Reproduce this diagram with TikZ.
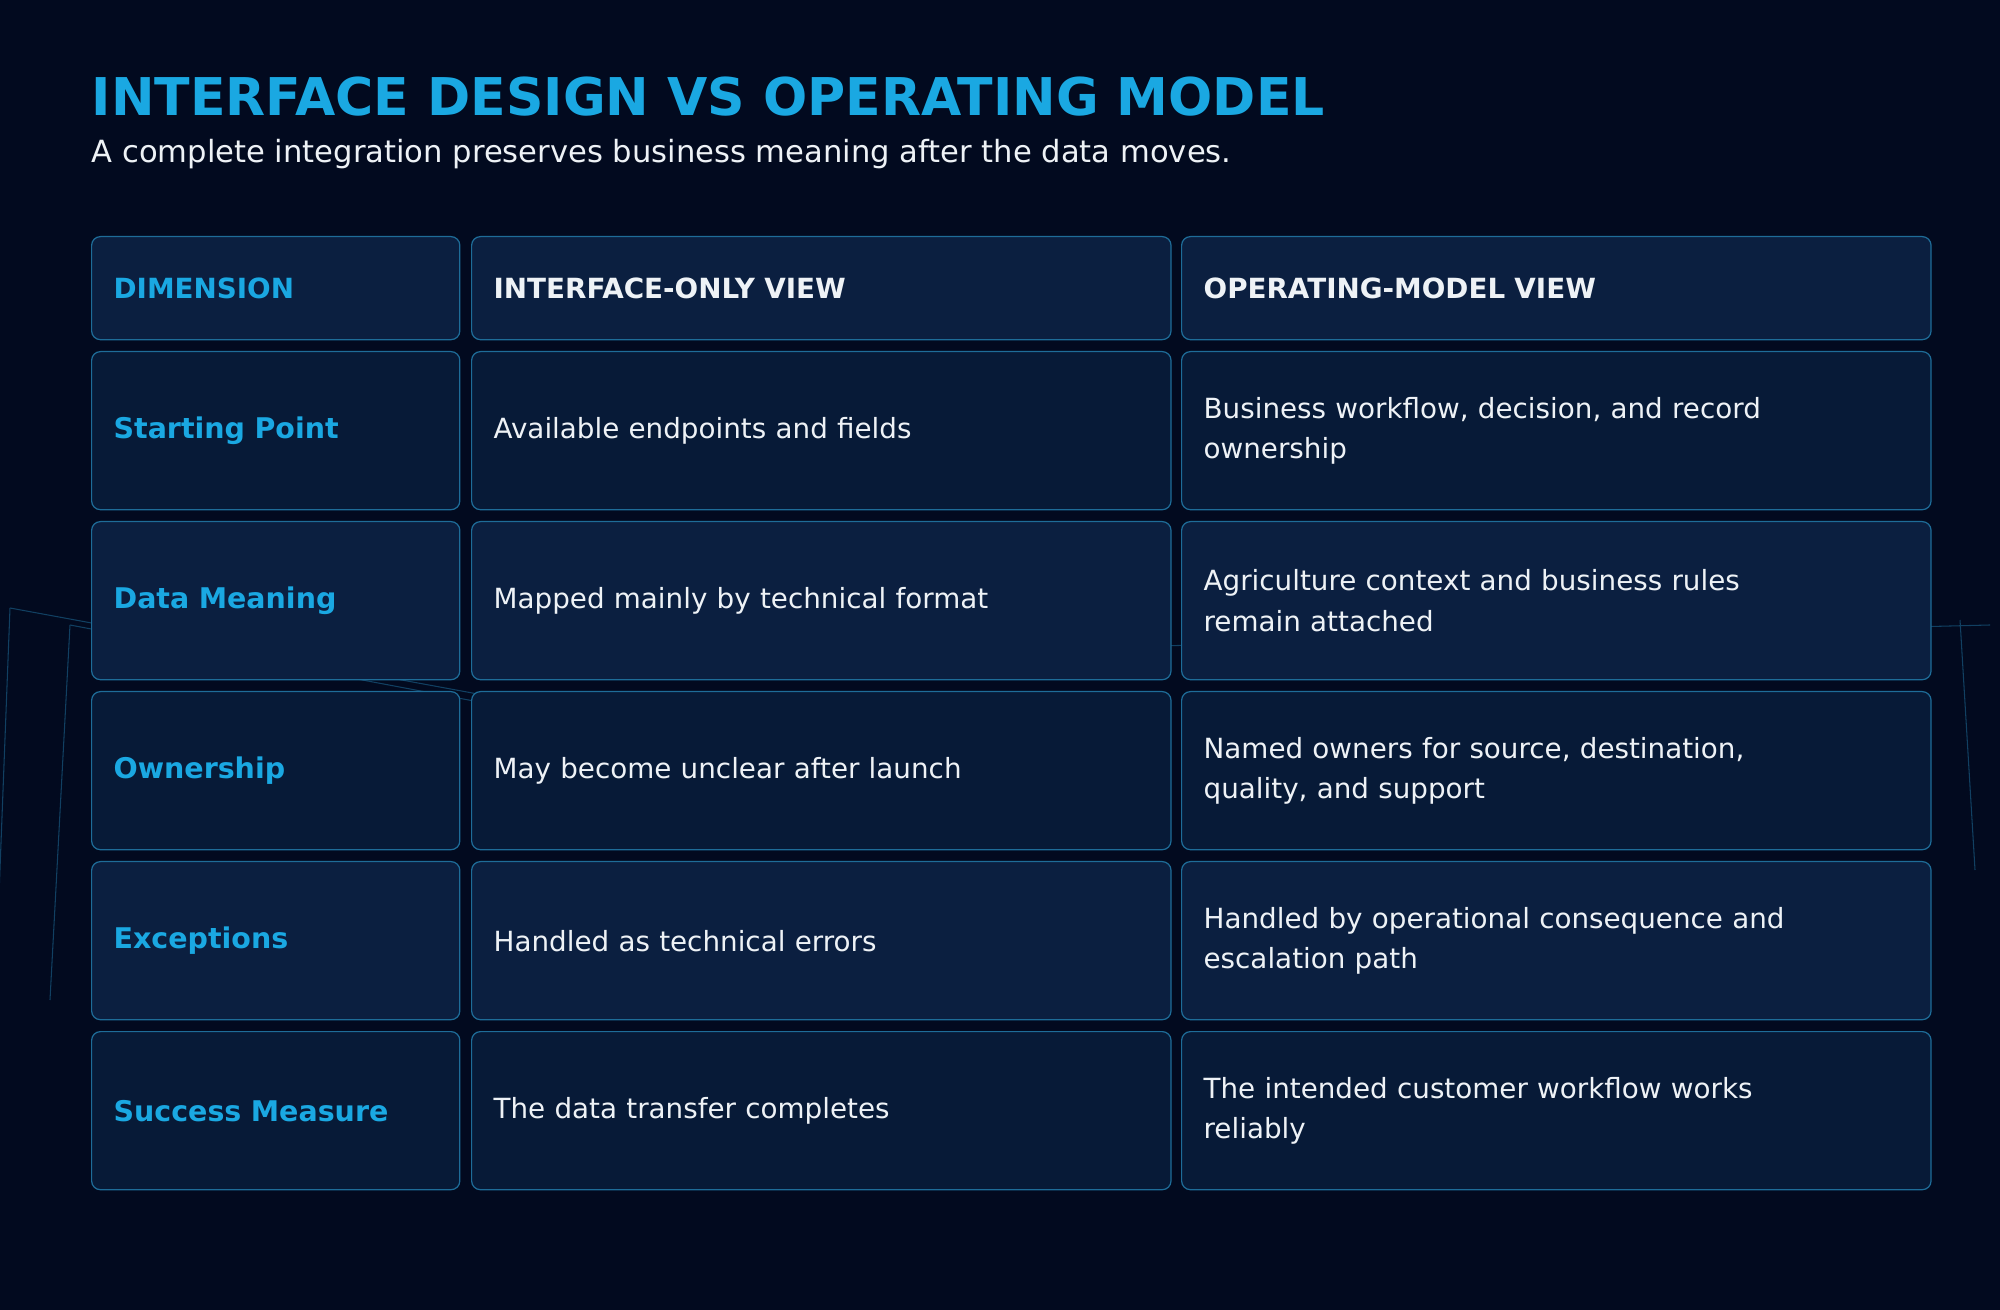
\documentclass[tikz,border=0pt]{standalone}
\usepackage{fontspec}
\setmainfont{DejaVu Sans}
\usetikzlibrary{positioning}
\definecolor{bgdark}{HTML}{020A1F}
\definecolor{cellA}{HTML}{071A37}
\definecolor{cellB}{HTML}{0B1F40}
\definecolor{edge}{HTML}{1E6C98}
\definecolor{accent}{HTML}{1AA8E2}
\definecolor{ink}{HTML}{EEF2F6}

\begin{document}
\begin{tikzpicture}[
  x=0.01cm, y=-0.01cm,
  cell/.style={draw=edge, line width=0.35pt, rounded corners=2.5pt, anchor=north west,
    align=left, inner xsep=0.22cm, inner ysep=0pt, minimum height=1.58cm,
    font=\fontsize{7.9}{11.4}\selectfont, text=ink},
  dimcol/.style={cell, text width=3.24cm, minimum width=3.68cm, text=accent, font=\fontsize{8.1}{11.4}\selectfont\bfseries},
  ifcol/.style={cell, text width=6.55cm, minimum width=6.99cm},
  opcol/.style={cell, text width=7.05cm, minimum width=7.49cm},
  head/.style={minimum height=1.03cm, font=\fontsize{7.9}{11.4}\selectfont\bfseries}
]
\fill[bgdark] (0,0) rectangle (2000,1310);
\useasboundingbox (0,0) rectangle (2000,1310);

% faint background frame
\draw[edge!55!bgdark, line width=0.3pt] (10,608) -- (1000,790) (70,625) -- (1000,800)
  (1000,650) -- (1990,625) (10,608) -- (-5,1000) (70,625) -- (50,1000) (1960,620) -- (1975,870);

% title
\node[anchor=base west, inner sep=0, text=accent, font=\fontsize{14.8}{18}\selectfont\bfseries] (title) at (91,116)
  {INTERFACE DESIGN VS OPERATING MODEL};
\node[anchor=base west, inner sep=0, text=ink, font=\fontsize{8.7}{10}\selectfont] (subtitle) at (91,163)
  {A complete integration preserves business meaning after the data moves.};

% header row
\node[dimcol, head, fill=cellB] (h1) at (91,236) {DIMENSION};
\node[ifcol, head, fill=cellB, text=ink] (h2) at (471,236) {INTERFACE-ONLY VIEW};
\node[opcol, head, fill=cellB, text=ink] (h3) at (1181,236) {OPERATING-MODEL VIEW};

% body rows
\foreach \i/\dim/\ifv/\opv [count=\r from 0] in {
  0/Starting Point/Available endpoints and fields/{Business workflow, decision, and record\\ownership},
  1/Data Meaning/Mapped mainly by technical format/{Agriculture context and business rules\\remain attached},
  0/Ownership/May become unclear after launch/{Named owners for source, destination,\\quality, and support},
  1/Exceptions/Handled as technical errors/{Handled by operational consequence and\\escalation path},
  0/Success Measure/The data transfer completes/{The intended customer workflow works\\reliably}}{
  \ifnum\i=0 \def\cellfill{cellA}\else\def\cellfill{cellB}\fi
  \node[dimcol, fill=\cellfill] (d\r) at (91,351+170*\r) {\dim};
  \node[ifcol, fill=\cellfill] (f\r) at (471,351+170*\r) {\ifv};
  \node[opcol, fill=\cellfill] (o\r) at (1181,351+170*\r) {\opv};
}
\end{tikzpicture}
\end{document}
